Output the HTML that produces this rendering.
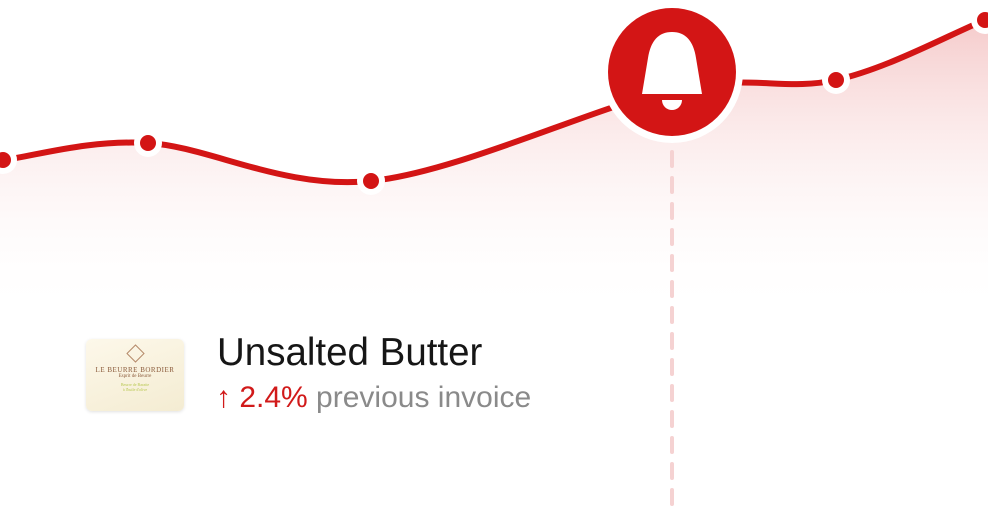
<!DOCTYPE html>
<html><head><meta charset="utf-8"><style>
html,body{margin:0;padding:0;background:#fff;width:988px;height:512px;overflow:hidden;font-family:"Liberation Sans",sans-serif}
#wrap{position:relative;width:988px;height:512px}
svg{position:absolute;left:0;top:0}
.title{position:absolute;left:217px;top:331px;font-size:38.5px;color:#161616;white-space:nowrap}
.sub{position:absolute;left:216px;top:381px;font-size:30px;white-space:nowrap;color:#8a8a8a}
.sub .up{color:#d11a1a}
.butter{position:absolute;left:86px;top:339px;width:98px;height:72px;border-radius:6px;background:linear-gradient(160deg,#fdf8ea,#f4ecd2);box-shadow:0 1px 3px rgba(0,0,0,.12);text-align:center;font-family:"Liberation Serif",serif}
</style></head><body>
<div id="wrap">
<svg id="chart" width="988" height="512">
<defs><linearGradient id="g" x1="0" y1="0" x2="0" y2="1">
<stop offset="0" stop-color="#f1b3b3" stop-opacity="0.8"/><stop offset="1" stop-color="#fff" stop-opacity="0"/></linearGradient></defs>
</svg>
<div class="butter">
<div style="margin:8px auto 0;width:11px;height:11px;border:1px solid #b58a6a;transform:rotate(45deg)"></div>
<div style="font-size:7px;color:#8a5a3a;margin-top:6px;letter-spacing:.5px">LE BEURRE BORDIER</div>
<div style="font-size:5px;color:#8a5a3a">Esprit de Beurre</div>
<div style="font-size:4px;color:#b8c850;margin-top:3px">Beurre de Baratte<br>à l'huile d'olive</div>
</div>
<div class="title">Unsalted Butter</div>
<div class="sub"><span class="up">↑ 2.4%</span> previous invoice</div>
</div>
<script>
const xVals=[0,145,368,669,833,982,1040];
const yVals=[30,38.5,19.5,65,70,100,112];
const alertIndex=3;
const svg=document.getElementById('chart');
const NS='http://www.w3.org/2000/svg';
const X=v=>3+v;
const Y=v=>220-v*2;
const pts=xVals.map((x,i)=>[X(x),Y(yVals[i])]);
function pathD(p){let d='M'+p[0][0]+','+p[0][1];
for(let i=0;i<p.length-1;i++){const p0=p[i-1]||p[i],p1=p[i],p2=p[i+1],p3=p[i+2]||p2;
const c1=[p1[0]+(p2[0]-p0[0])/6,p1[1]+(p2[1]-p0[1])/6],c2=[p2[0]-(p3[0]-p1[0])/6,p2[1]-(p3[1]-p1[1])/6];
d+=` C${c1[0]},${c1[1]} ${c2[0]},${c2[1]} ${p2[0]},${p2[1]}`;}return d;}
const ext=[[X(-40),Y(yVals[0]-2)],...pts];
const d=pathD(ext);
const area=document.createElementNS(NS,'path');
area.setAttribute('d',d+` L${ext[ext.length-1][0]},315 L${ext[0][0]},315 Z`);
area.setAttribute('fill','url(#g)');


svg.appendChild(area);
const dash=document.createElementNS(NS,'line');
const ax=pts[alertIndex][0];
dash.setAttribute('x1',ax);dash.setAttribute('x2',ax);dash.setAttribute('y1',152);dash.setAttribute('y2',512);
dash.setAttribute('stroke','#f5d2d2');dash.setAttribute('stroke-width',4);dash.setAttribute('stroke-dasharray','14 12');dash.setAttribute('stroke-linecap','round');


svg.appendChild(dash);
const line=document.createElementNS(NS,'path');
line.setAttribute('d',d);line.setAttribute('fill','none');line.setAttribute('stroke','#d31515');line.setAttribute('stroke-width',6);


svg.appendChild(line);
pts.forEach((p,i)=>{if(i===alertIndex)return;
const w=document.createElementNS(NS,'circle');w.setAttribute('cx',p[0]);w.setAttribute('cy',p[1]);w.setAttribute('r',14);w.setAttribute('fill','#fff');


svg.appendChild(w);
const c=document.createElementNS(NS,'circle');c.setAttribute('cx',p[0]);c.setAttribute('cy',p[1]);c.setAttribute('r',8);c.setAttribute('fill','#d31515');


svg.appendChild(c);});
const g=document.createElementNS(NS,'g');
g.setAttribute('transform',`translate(${ax},72)`);


g.innerHTML='<circle r="71" fill="#fff"/><circle r="64" fill="#d31515"/><path d="M-30,22 L-24,-14 Q-20,-40 0,-40 Q20,-40 24,-14 L30,22 Z" fill="#fff"/><path d="M-10,28 L10,28 A10,10 0 0 1 -10,28 Z" fill="#fff"/>';
svg.appendChild(g);
</script>
</body></html>
